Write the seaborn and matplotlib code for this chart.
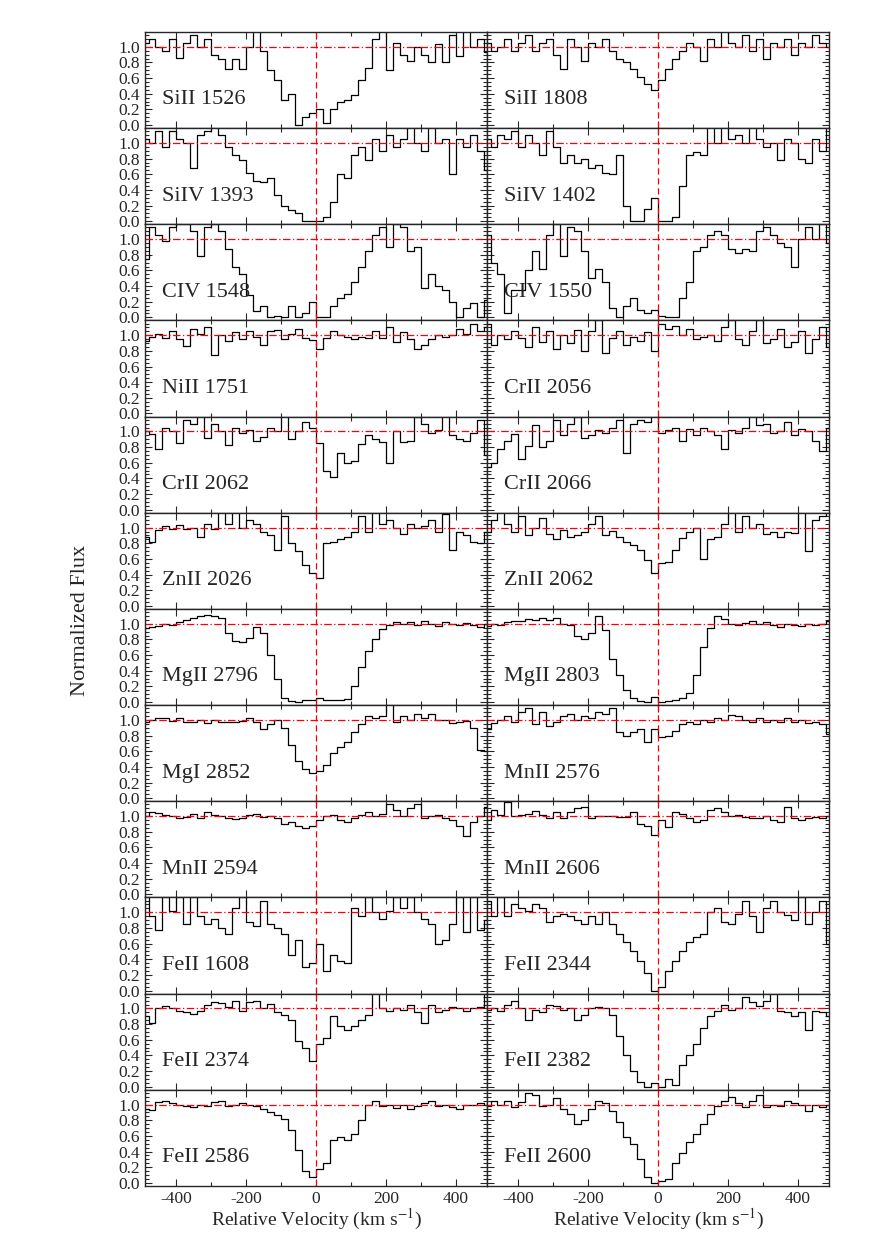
import numpy as np
import matplotlib
matplotlib.use('Agg')
import matplotlib.pyplot as plt
import seaborn as sns
from matplotlib.ticker import MultipleLocator, FormatStrFormatter

# velocity bin centres (km/s), 20 km/s pixels
vel = np.arange(-490, 500, 20)

# normalised flux, one list per transition
siii_1526 = [1.05, 1.1, 1.0, 0.95, 1.1, 0.86, 1.05, 1.15, 1.0, 1.1, 0.9, 0.85, 0.72, 0.85, 0.72, 1.0, 1.2, 0.95, 0.7, 0.58,
             0.32, 0.4, 0.0, 0.1, 0.15, 0.2, 0.02, 0.2, 0.3, 0.32, 0.38, 0.58, 0.73, 1.1, 1.2, 0.7, 1.05, 0.9, 0.82, 1.0,
             0.9, 0.8, 1.03, 0.8, 1.15, 0.88, 1.2, 1.0, 1.1, 0.93]
siii_1808 = [1.05, 0.95, 1.0, 1.1, 0.95, 1.05, 1.15, 0.95, 1.05, 1.1, 0.9, 0.72, 1.1, 1.0, 0.82, 1.05, 1.0, 1.1, 0.95, 0.85,
             0.8, 0.72, 0.62, 0.52, 0.45, 0.58, 0.72, 0.85, 0.95, 1.05, 1.0, 0.82, 1.1, 1.0, 1.2, 1.05, 1.0, 1.15, 0.95, 1.1,
             0.85, 1.05, 1.0, 1.1, 0.9, 1.05, 1.0, 1.15, 1.05, 1.0]
siiv_1393 = [1.05, 1.0, 1.15, 0.95, 1.15, 1.05, 1.0, 0.68, 1.1, 1.15, 1.2, 1.1, 0.95, 0.85, 0.78, 0.62, 0.52, 0.5, 0.55, 0.33,
             0.2, 0.14, 0.1, 0.0, 0.0, 0.0, 0.05, 0.25, 0.6, 0.55, 0.85, 0.95, 0.78, 1.05, 0.9, 1.1, 0.95, 1.05, 1.2, 1.0,
             0.9, 1.2, 1.0, 1.05, 0.6, 1.05, 0.95, 1.1, 0.9, 0.65]
siiv_1402 = [1.05, 0.95, 1.1, 1.05, 1.15, 0.95, 1.1, 1.0, 0.85, 1.15, 0.95, 0.75, 0.85, 0.75, 0.8, 0.68, 0.72, 0.62, 0.6, 0.85,
             0.2, 0.0, 0.0, 0.15, 0.3, 0.0, 0.0, 0.05, 0.45, 0.85, 0.88, 0.85, 1.2, 1.0, 1.2, 1.05, 1.1, 1.0, 1.2, 1.05,
             0.95, 1.0, 0.78, 1.05, 1.0, 0.8, 0.75, 1.05, 0.9, 1.2]
civ_1548 = [0.75, 1.15, 1.05, 0.97, 1.15, 1.2, 1.2, 1.1, 0.78, 1.15, 1.2, 1.1, 0.88, 0.65, 0.55, 0.28, 0.08, 0.15, 0.0, 0.02,
            0.0, 0.15, 0.0, 0.05, 0.2, 0.0, 0.0, 0.15, 0.25, 0.3, 0.45, 0.65, 0.85, 1.05, 1.15, 0.9, 1.2, 1.15, 0.85, 0.9,
            0.38, 0.55, 0.4, 0.35, 0.2, 0.0, 0.12, 0.18, 0.0, 0.22]
civ_1550 = [1.05, 0.7, 0.55, 0.05, 0.35, 0.35, 0.6, 0.85, 0.62, 1.05, 1.2, 0.78, 1.15, 1.1, 0.85, 0.5, 0.62, 0.45, 0.12, 0.0,
            0.15, 0.25, 0.1, 0.05, 0.1, 0.02, 0.0, 0.0, 0.25, 0.45, 0.85, 0.9, 1.05, 1.1, 1.05, 0.88, 0.82, 0.88, 0.85, 1.1,
            1.15, 1.05, 0.95, 0.9, 0.65, 1.0, 1.15, 1.0, 1.2, 0.95]
niii_1751 = [0.93, 0.98, 1.02, 0.97, 1.05, 0.95, 0.86, 1.08, 1.02, 1.1, 0.75, 1.0, 0.93, 1.04, 0.95, 1.06, 0.98, 0.88, 1.05, 1.07,
             0.95, 1.02, 1.08, 0.96, 0.94, 0.82, 0.97, 1.06, 1.0, 0.98, 0.95, 0.98, 0.96, 1.05, 0.97, 1.1, 0.92, 1.04, 0.95, 0.82,
             0.88, 0.95, 1.0, 0.98, 1.0, 1.08, 1.02, 1.14, 1.06, 1.1]
crii_2056 = [1.15, 0.88, 1.0, 0.95, 1.05, 0.97, 0.85, 1.1, 0.92, 1.05, 0.83, 1.0, 0.9, 1.07, 0.8, 1.05, 1.2, 0.78, 0.96, 1.05,
             0.88, 0.98, 0.93, 1.04, 0.8, 1.15, 1.08, 1.12, 1.0, 1.08, 0.95, 0.98, 1.0, 0.93, 1.1, 1.2, 0.95, 0.88, 1.05, 1.2,
             0.9, 0.95, 1.08, 0.85, 0.92, 1.05, 0.78, 0.95, 1.1, 0.85]
crii_2062 = [1.0, 0.97, 0.77, 1.05, 1.0, 0.85, 1.15, 1.1, 1.2, 0.92, 1.1, 1.0, 0.83, 1.05, 0.98, 1.02, 0.88, 0.93, 1.05, 1.0,
             1.2, 0.9, 1.0, 1.12, 1.05, 0.85, 0.5, 0.42, 0.72, 0.6, 0.62, 0.84, 0.96, 0.9, 0.86, 0.6, 1.0, 0.86, 0.88, 1.18,
             1.1, 0.98, 1.02, 1.2, 0.95, 0.9, 0.88, 0.98, 1.15, 0.7]
crii_2066 = [0.55, 0.6, 0.78, 0.88, 0.97, 0.65, 0.82, 1.08, 0.8, 0.88, 1.15, 0.95, 1.1, 1.18, 0.92, 0.95, 1.02, 0.98, 1.05, 1.15,
             0.72, 1.1, 1.15, 1.12, 1.2, 0.98, 1.02, 1.05, 0.88, 1.03, 0.95, 1.05, 1.0, 0.95, 0.78, 1.02, 0.98, 1.05, 1.2, 1.08,
             1.1, 0.98, 1.0, 1.12, 0.95, 1.03, 1.0, 0.88, 0.75, 1.05]
znii_2026 = [0.88, 0.82, 0.97, 1.02, 0.98, 1.03, 0.98, 1.0, 0.88, 1.05, 0.98, 1.2, 1.05, 1.2, 1.0, 1.1, 1.05, 0.95, 0.9, 0.72,
             1.15, 0.8, 0.7, 0.52, 0.42, 0.35, 0.8, 0.82, 0.85, 0.88, 0.95, 1.15, 0.95, 1.2, 1.05, 1.1, 1.0, 0.92, 1.05, 1.0,
             1.02, 1.1, 0.95, 1.18, 0.72, 0.95, 0.9, 0.82, 0.8, 0.95]
znii_2062 = [0.95, 1.1, 1.2, 1.05, 0.95, 1.15, 0.9, 1.0, 1.12, 0.92, 0.85, 0.97, 0.88, 0.9, 0.95, 1.05, 1.15, 0.9, 0.96, 0.88,
             0.82, 0.78, 0.72, 0.58, 0.42, 0.55, 0.56, 0.72, 0.87, 0.95, 1.0, 0.6, 0.85, 0.88, 1.05, 1.2, 0.95, 1.15, 1.0, 1.05,
             0.92, 0.95, 0.88, 0.95, 0.93, 1.2, 0.7, 1.1, 1.15, 1.2]
mgii_2796 = [0.95, 0.96, 0.97, 1.0, 0.98, 1.02, 1.05, 1.08, 1.1, 1.11, 1.1, 1.07, 0.88, 0.78, 0.77, 0.82, 0.96, 0.88, 0.6, 0.3,
             0.05, 0.01, 0.0, 0.02, 0.03, 0.05, 0.03, 0.02, 0.03, 0.04, 0.2, 0.45, 0.65, 0.8, 0.93, 0.98, 1.02, 1.0, 1.02, 0.98,
             1.03, 1.0, 0.97, 1.02, 1.0, 0.98, 1.01, 0.99, 0.96, 1.0]
mgii_2803 = [0.97, 1.0, 0.99, 1.02, 1.04, 1.03, 1.06, 1.05, 1.08, 1.05, 1.07, 1.0, 0.98, 0.85, 0.8, 0.88, 1.1, 0.92, 0.55, 0.35,
             0.15, 0.05, 0.01, 0.0, 0.06, 0.0, 0.01, 0.02, 0.05, 0.12, 0.35, 0.7, 0.95, 1.1, 1.06, 1.0, 0.98, 1.01, 1.03, 1.0,
             1.02, 0.99, 0.96, 1.0, 0.99, 0.97, 1.0, 0.98, 1.0, 1.03]
mgi_2852 = [0.97, 1.0, 1.02, 1.03, 0.99, 1.03, 0.98, 0.97, 1.0, 0.96, 1.0, 0.97, 0.98, 0.97, 0.99, 1.03, 0.97, 0.88, 0.95, 1.0,
            0.9, 0.68, 0.48, 0.37, 0.32, 0.35, 0.42, 0.58, 0.65, 0.72, 0.85, 0.95, 1.05, 1.02, 1.05, 1.2, 0.98, 1.05, 1.0, 1.08,
            1.03, 1.08, 1.0, 1.0, 0.96, 0.98, 0.99, 0.9, 0.62, 0.6]
mnii_2576 = [0.88, 0.96, 1.0, 1.05, 0.97, 1.1, 1.15, 0.95, 1.1, 0.92, 0.97, 1.05, 1.08, 1.0, 1.05, 1.02, 1.1, 1.08, 1.15, 0.84,
             0.8, 0.84, 0.88, 0.72, 0.88, 0.78, 0.8, 0.86, 0.95, 0.98, 0.95, 1.0, 0.97, 1.02, 1.0, 1.07, 1.05, 1.0, 0.97, 1.02,
             0.98, 1.0, 0.97, 1.02, 0.98, 1.0, 0.96, 0.97, 0.95, 0.82]
mnii_2594 = [1.0, 1.05, 1.04, 1.02, 1.0, 0.97, 0.99, 1.03, 0.98, 1.05, 1.02, 1.0, 0.97, 0.96, 0.98, 1.01, 1.03, 0.99, 1.0, 0.97,
             0.9, 0.92, 0.88, 0.85, 0.87, 0.95, 1.0, 1.02, 0.95, 0.93, 0.98, 1.02, 1.05, 1.0, 1.03, 1.15, 1.08, 1.0, 1.1, 1.15,
             0.97, 1.0, 1.02, 0.98, 0.95, 0.88, 0.74, 0.92, 1.0, 1.12]
mnii_2606 = [0.95, 1.08, 1.02, 1.18, 1.0, 1.02, 1.03, 1.06, 1.02, 0.97, 1.05, 0.98, 1.05, 1.1, 1.12, 0.98, 1.0, 1.0, 1.0, 0.99,
             0.99, 1.05, 0.9, 0.88, 0.76, 0.95, 0.86, 1.05, 1.03, 0.98, 0.93, 0.95, 1.08, 1.1, 1.05, 1.0, 1.01, 0.99, 0.97, 0.98,
             1.0, 0.95, 0.92, 1.12, 0.98, 0.95, 0.98, 0.99, 0.98, 1.0]
feii_1608 = [1.2, 0.95, 0.78, 1.2, 1.02, 1.2, 0.85, 1.2, 0.95, 0.85, 0.92, 0.8, 0.72, 1.05, 1.2, 0.88, 0.82, 1.15, 0.85, 0.8,
             0.72, 0.45, 0.65, 0.3, 0.35, 0.6, 0.25, 0.45, 0.38, 0.35, 1.05, 0.95, 1.2, 1.0, 0.92, 1.02, 1.2, 1.05, 1.2, 1.0,
             0.92, 0.85, 0.6, 0.65, 0.85, 1.2, 0.75, 1.2, 0.78, 0.9]
feii_2344 = [1.15, 0.95, 1.2, 0.95, 1.1, 1.05, 1.02, 1.1, 1.05, 0.88, 0.95, 0.98, 0.95, 0.9, 0.85, 0.95, 0.85, 1.0, 0.85, 0.72,
             0.62, 0.5, 0.38, 0.22, 0.0, 0.05, 0.25, 0.38, 0.5, 0.62, 0.68, 0.72, 1.0, 1.05, 0.88, 0.85, 0.98, 1.15, 0.95, 0.75,
             1.05, 1.15, 1.0, 0.97, 0.9, 1.2, 0.85, 1.0, 1.15, 0.6]
feii_2374 = [0.9, 0.82, 1.0, 1.03, 1.0, 0.97, 0.95, 0.93, 0.97, 1.05, 1.08, 1.07, 1.02, 1.1, 0.97, 1.08, 1.1, 1.0, 1.06, 0.95,
             0.92, 0.85, 0.58, 0.5, 0.33, 0.55, 0.62, 0.9, 0.78, 0.72, 0.77, 0.85, 0.92, 1.2, 1.0, 0.97, 1.0, 0.98, 1.05, 0.95,
             0.82, 1.05, 0.96, 0.98, 1.02, 1.0, 0.97, 1.0, 1.02, 1.2]
feii_2382 = [0.98, 1.0, 0.97, 1.05, 1.1, 1.0, 0.85, 0.98, 0.95, 1.05, 1.03, 0.98, 1.0, 0.85, 0.92, 1.0, 1.02, 1.0, 0.92, 0.65,
             0.4, 0.2, 0.06, 0.0, 0.05, 0.0, 0.1, 0.02, 0.28, 0.4, 0.55, 0.75, 0.9, 0.97, 1.05, 0.98, 1.0, 1.15, 1.08, 1.03,
             1.1, 1.2, 0.97, 0.95, 0.9, 0.95, 0.72, 0.97, 0.95, 0.9]
feii_2586 = [0.95, 0.93, 1.03, 1.05, 1.02, 1.0, 0.98, 0.97, 0.99, 0.98, 1.03, 1.05, 0.98, 1.0, 1.02, 1.0, 0.98, 0.95, 0.9, 0.87,
             0.82, 0.68, 0.42, 0.15, 0.08, 0.18, 0.25, 0.55, 0.58, 0.55, 0.62, 0.8, 1.0, 1.05, 0.98, 1.0, 0.96, 1.0, 0.95, 0.98,
             1.02, 1.05, 0.98, 1.0, 0.97, 0.95, 1.0, 0.99, 1.02, 1.0]
feii_2600 = [0.98, 1.05, 1.0, 1.05, 0.97, 1.03, 1.15, 1.12, 0.98, 1.0, 1.08, 0.95, 0.88, 0.75, 0.8, 0.95, 1.05, 1.02, 0.92, 0.78,
             0.58, 0.5, 0.3, 0.08, 0.0, 0.02, 0.05, 0.25, 0.38, 0.52, 0.62, 0.75, 0.88, 0.98, 1.05, 1.1, 1.02, 0.97, 1.05, 1.12,
             0.97, 1.0, 0.98, 1.05, 1.02, 1.0, 0.92, 1.0, 0.97, 1.0]

# panel order, left column / right column, row by row
left_labels = ['SiII 1526', 'SiIV 1393', 'CIV 1548', 'NiII 1751', 'CrII 2062', 'ZnII 2026',
               'MgII 2796', 'MgI 2852', 'MnII 2594', 'FeII 1608', 'FeII 2374', 'FeII 2586']
left_flux = [siii_1526, siiv_1393, civ_1548, niii_1751, crii_2062, znii_2026,
             mgii_2796, mgi_2852, mnii_2594, feii_1608, feii_2374, feii_2586]
right_labels = ['SiII 1808', 'SiIV 1402', 'CIV 1550', 'CrII 2056', 'CrII 2066', 'ZnII 2062',
                'MgII 2803', 'MnII 2576', 'MnII 2606', 'FeII 2344', 'FeII 2382', 'FeII 2600']
right_flux = [siii_1808, siiv_1402, civ_1550, crii_2056, crii_2066, znii_2062,
              mgii_2803, mnii_2576, mnii_2606, feii_2344, feii_2382, feii_2600]

sns.set_style('ticks')
plt.rcParams['font.family'] = ['Liberation Serif', 'DejaVu Serif']
plt.rcParams['mathtext.fontset'] = 'stix'
plt.rcParams['axes.unicode_minus'] = False

fig, axes = plt.subplots(12, 2, figsize=(8.72, 12.53), dpi=100, sharex=True, sharey=True)
fig.subplots_adjust(left=0.1663, right=0.9507, top=0.9745, bottom=0.0535, hspace=0, wspace=0)

for col, (labels, fluxes) in enumerate([(left_labels, left_flux), (right_labels, right_flux)]):
    for row in range(12):
        ax = axes[row, col]
        sns.lineplot(x=vel, y=fluxes[row], drawstyle='steps-mid', color='black', lw=0.9, ax=ax)
        ax.axvline(0, color='red', ls=(0, (5, 3)), lw=0.9)
        ax.axhline(1, color='red', ls=(0, (6, 2, 1, 2)), lw=0.9)
        ax.set_xlim(-490, 490)
        ax.set_ylim(-0.04, 1.19)
        ax.text(-440, 0.32, labels[row], fontsize=16, va='center')
        ax.xaxis.set_major_locator(MultipleLocator(200))
        ax.xaxis.set_minor_locator(MultipleLocator(100))
        ax.yaxis.set_major_locator(MultipleLocator(0.2))
        ax.yaxis.set_minor_locator(MultipleLocator(0.05))
        ax.yaxis.set_major_formatter(FormatStrFormatter('%.1f'))
        ax.tick_params(which='both', direction='in', top=True, right=True, width=0.8)
        ax.tick_params(which='major', length=5, labelsize=12.5)
        ax.tick_params(which='minor', length=3)
        for s in ax.spines.values():
            s.set_linewidth(1.0)
        ax.set_ylabel('')
    axes[11, col].set_xlabel(r'Relative Velocity (km s$^{-1}$)', fontsize=14, labelpad=0)

fig.text(0.092, 0.505, 'Normalized Flux', rotation=90, fontsize=16, va='center', ha='center')

fig.savefig('out.png', dpi=100)
